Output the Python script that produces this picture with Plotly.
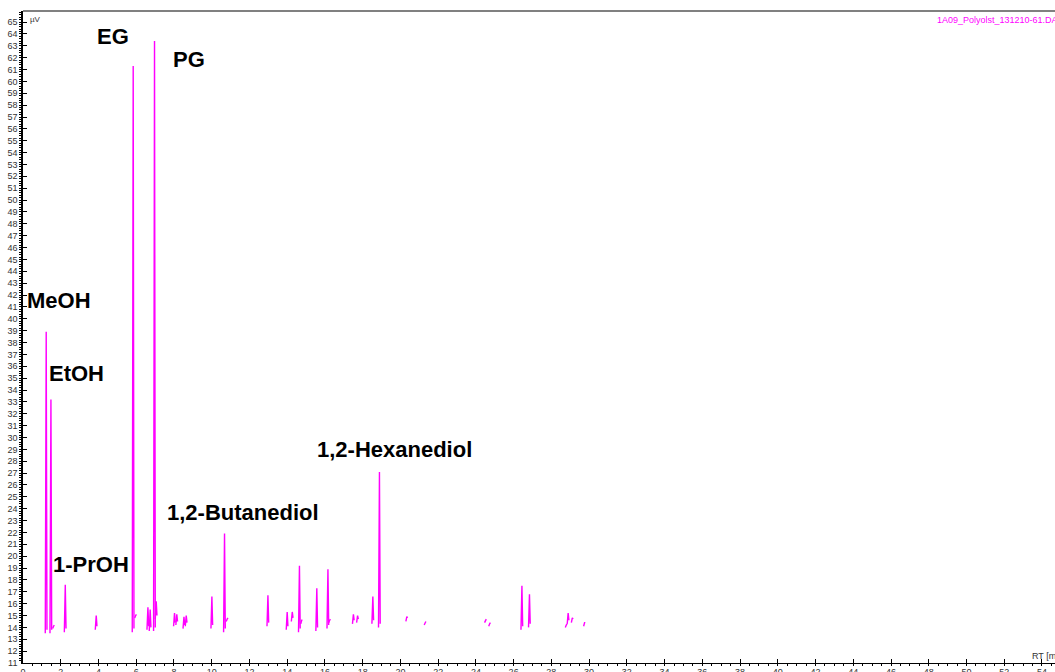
import plotly.graph_objects as go

# Chromatogram peaks: retention time (min), apex signal (µV), foot level (µV)
peak_rt = [1.22, 1.47, 1.61, 2.23, 3.87, 5.83, 5.96, 6.61, 6.73, 6.96, 7.05,
           8.02, 8.14, 8.52, 8.64, 10.00, 10.67, 10.81, 12.97, 13.99, 14.26,
           14.64, 14.76, 15.56, 16.15, 16.24, 17.50, 17.72, 18.53, 18.88,
           20.33, 21.30, 24.50, 24.72, 26.43, 26.83, 28.78, 28.88, 29.10, 29.75]
peak_height = [38.9, 33.2, 14.1, 17.6, 15.0, 61.3, 15.0, 15.7, 15.5, 63.4, 16.2,
               15.2, 15.1, 14.9, 15.0, 16.6, 21.9, 14.7, 16.7, 15.3, 15.3,
               19.2, 14.6, 17.3, 18.9, 14.6, 15.1, 15.0, 16.6, 27.1,
               14.9, 14.3, 14.5, 14.3, 17.5, 16.8, 14.2, 15.2, 14.8, 14.4]
peak_foot = [13.5, 13.5, 13.9, 13.6, 13.8, 13.6, 14.8, 13.8, 13.7, 13.7, 14.7,
             14.1, 14.2, 13.9, 14.1, 13.9, 13.6, 14.5, 14.1, 13.8, 14.5,
             13.6, 14.3, 13.7, 13.9, 14.4, 14.3, 14.4, 14.3, 14.0,
             14.5, 14.2, 14.4, 14.1, 13.8, 14.0, 14.0, 14.3, 14.4, 14.1]

# Compound labels and their positions (RT, µV)
label_text = ["EG", "PG", "MeOH", "EtOH", "1-PrOH", "1,2-Butanediol", "1,2-Hexanediol"]
label_rt = [3.83, 7.85, 0.10, 1.28, 1.49, 7.53, 15.50]
label_uv = [63.8, 61.85, 41.55, 35.35, 19.3, 23.7, 29.0]

trace_x, trace_y = [], []
for rt, h, f in zip(peak_rt, peak_height, peak_foot):
    trace_x += [rt - 0.04, rt - 0.01, rt + 0.01, rt + 0.05, None]
    trace_y += [f, h, h, f + 0.3, None]

fig = go.Figure()
fig.add_trace(go.Scatter(
    x=trace_x, y=trace_y, mode="lines",
    line=dict(color="#FF00FF", width=1.4),
    connectgaps=False, hoverinfo="skip", showlegend=False,
))

for t, x, y in zip(label_text, label_rt, label_uv):
    fig.add_annotation(x=x, y=y, text=f"<b>{t}</b>", showarrow=False,
                       xanchor="left", yanchor="middle",
                       font=dict(family="Arial, Liberation Sans", size=22, color="black"))

tick_font = dict(family="Arial, Liberation Sans", size=9, color="#333333")

fig.update_layout(
    width=1055, height=672,
    margin=dict(l=23, r=0, t=11, b=9),
    paper_bgcolor="white", plot_bgcolor="white",
    font=dict(family="Arial, Liberation Sans"),
    xaxis=dict(
        range=[0, 54.69], dtick=2, tick0=0, showgrid=False, zeroline=False,
        showline=True, linecolor="black", linewidth=1, automargin=False,
        ticks="inside", ticklen=4, tickcolor="black",
        tickfont=tick_font,
        minor=dict(dtick=0.5, ticks="outside", ticklen=2, tickcolor="black"),
    ),
    yaxis=dict(
        range=[11, 65.93], dtick=1, tick0=0, showgrid=False, zeroline=False,
        showline=True, linecolor="black", linewidth=1.5, automargin=False,
        ticks="inside", ticklen=4, tickcolor="black", ticklabelstandoff=2,
        tickfont=tick_font,
        minor=dict(dtick=0.2, ticks="outside", ticklen=2, tickcolor="black"),
    ),
    shapes=[dict(type="line", xref="paper", yref="paper", x0=0, x1=1, y0=1, y1=1,
                 line=dict(color="#808080", width=2))],
)

fig.add_annotation(xref="paper", yref="paper", x=0.005, y=0.997, text="µV",
                   showarrow=False, xanchor="left", yanchor="top",
                   font=dict(family="Arial, Liberation Sans", size=8, color="#333333"))
fig.add_annotation(xref="paper", yref="paper", x=0.884, y=0.997,
                   text="1A09_Polyolst_131210-61.DATA",
                   showarrow=False, xanchor="left", yanchor="top",
                   font=dict(family="Arial, Liberation Sans", size=9, color="#FF00FF"))
fig.add_annotation(xref="paper", yref="paper", x=0.976, y=0.0, text="RT [min]",
                   showarrow=False, xanchor="left", yanchor="bottom",
                   font=dict(family="Arial, Liberation Sans", size=9, color="#333333"))

fig.write_html("out.html")
